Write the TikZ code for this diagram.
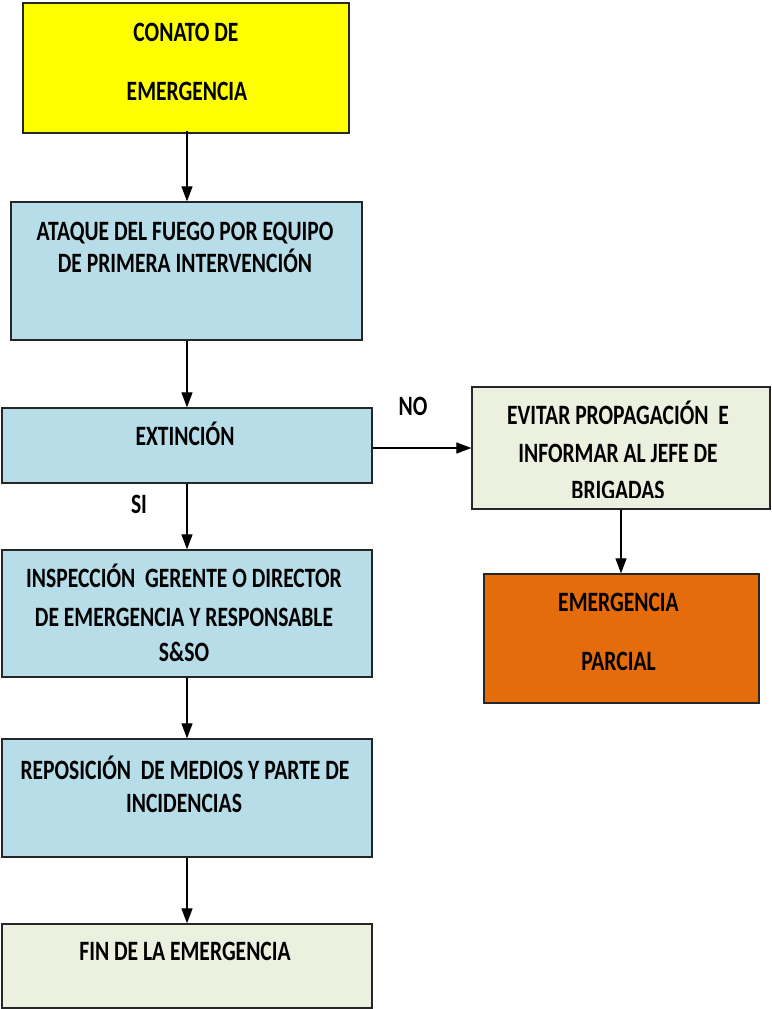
\documentclass[tikz,border=0pt]{standalone}
\usepackage{fontspec}
\setmainfont{Carlito}[FakeStretch=0.77, BoldFont={* Bold}, BoldFeatures={FakeStretch=0.77}]
\usetikzlibrary{arrows.meta}
\definecolor{cyel}{HTML}{FFFF00}
\definecolor{cblue}{HTML}{B7DDE8}
\definecolor{cgreen}{HTML}{EBF1DE}
\definecolor{corange}{HTML}{E46C0A}
\definecolor{cline}{HTML}{262626}
\begin{document}
\begin{tikzpicture}[x=1pt,y=-1pt,
  box/.style={draw=cline, line width=1.3pt, inner sep=0pt},
  txt/.style={anchor=base, inner sep=0pt, font=\fontsize{28}{30}\selectfont\bfseries},
  conn/.style={line width=1.2pt, -{Triangle[length=15pt,width=11pt]}}]
\useasboundingbox (0,0) rectangle (771,1009);
% boxes
\node[box, fill=cyel, minimum width=326pt, minimum height=130pt] (b1) at (186,68) {};
\node[box, fill=cblue, minimum width=351pt, minimum height=138pt] (b2) at (186.5,271) {};
\node[box, fill=cblue, minimum width=370pt, minimum height=75pt] (b3) at (187,445.5) {};
\node[box, fill=cblue, minimum width=370pt, minimum height=127pt] (b4) at (187,613.5) {};
\node[box, fill=cblue, minimum width=370pt, minimum height=118pt] (b5) at (187,798) {};
\node[box, fill=cgreen, minimum width=370pt, minimum height=84pt] (b6) at (187,966) {};
\node[box, fill=cgreen, minimum width=298pt, minimum height=122pt] (r1) at (621,448) {};
\node[box, fill=corange, minimum width=275pt, minimum height=129pt] (r2) at (621.5,638.5) {};
% texts
\node[txt] (t1a) at (186,41.5) {CONATO\ DE};
\node[txt] (t1b) at (187,100) {EMERGENCIA};
\node[txt] (t2a) at (185,240) {ATAQUE DEL FUEGO POR EQUIPO};
\node[txt] (t2b) at (185,272.5) {DE PRIMERA INTERVENCIÓN};
\node[txt] (t3) at (185,445) {EXTINCIÓN};
\node[txt] (t4a) at (184,587) {INSPECCIÓN\ \ GERENTE O DIRECTOR};
\node[txt] (t4b) at (184,626) {DE EMERGENCIA Y RESPONSABLE};
\node[txt] (t4c) at (184,661) {S\&SO};
\node[txt] (t5a) at (185,779) {REPOSICIÓN\ \ DE MEDIOS Y PARTE DE};
\node[txt] (t5b) at (184,812.7) {INCIDENCIAS};
\node[txt] (t6) at (185,960) {FIN DE LA EMERGENCIA};
\node[txt] (tr1a) at (618,424) {EVITAR PROPAGACIÓN\ \ E};
\node[txt] (tr1b) at (618,462.5) {INFORMAR AL JEFE DE};
\begin{scope}
\clip (472,480) rectangle (770,497);
\node[txt] (tr1c) at (618,499.5) {BRIGADAS};
\end{scope}
\node[txt] (tr2a) at (618.5,611.5) {EMERGENCIA};
\node[txt] (tr2b) at (618.5,670) {PARCIAL};
\node[txt] (tno) at (413,415) {NO};
\node[txt] (tsi) at (139,513) {SI};
% connectors
\draw[conn] ([yshift=3pt]b1.south -| b3.north) -- (b2.north -| b3.north);
\draw[conn] (b2.south -| b3.north) -- (b3.north);
\draw[conn] (b3.south) -- (b4.north);
\draw[conn] (b4.south) -- (b5.north);
\draw[conn] (b5.south) -- (b6.north);
\draw[conn] (b3.east |- r1.west) -- (r1.west);
\draw[conn] (r1.south) -- (r1.south |- r2.north);
\end{tikzpicture}
\end{document}
